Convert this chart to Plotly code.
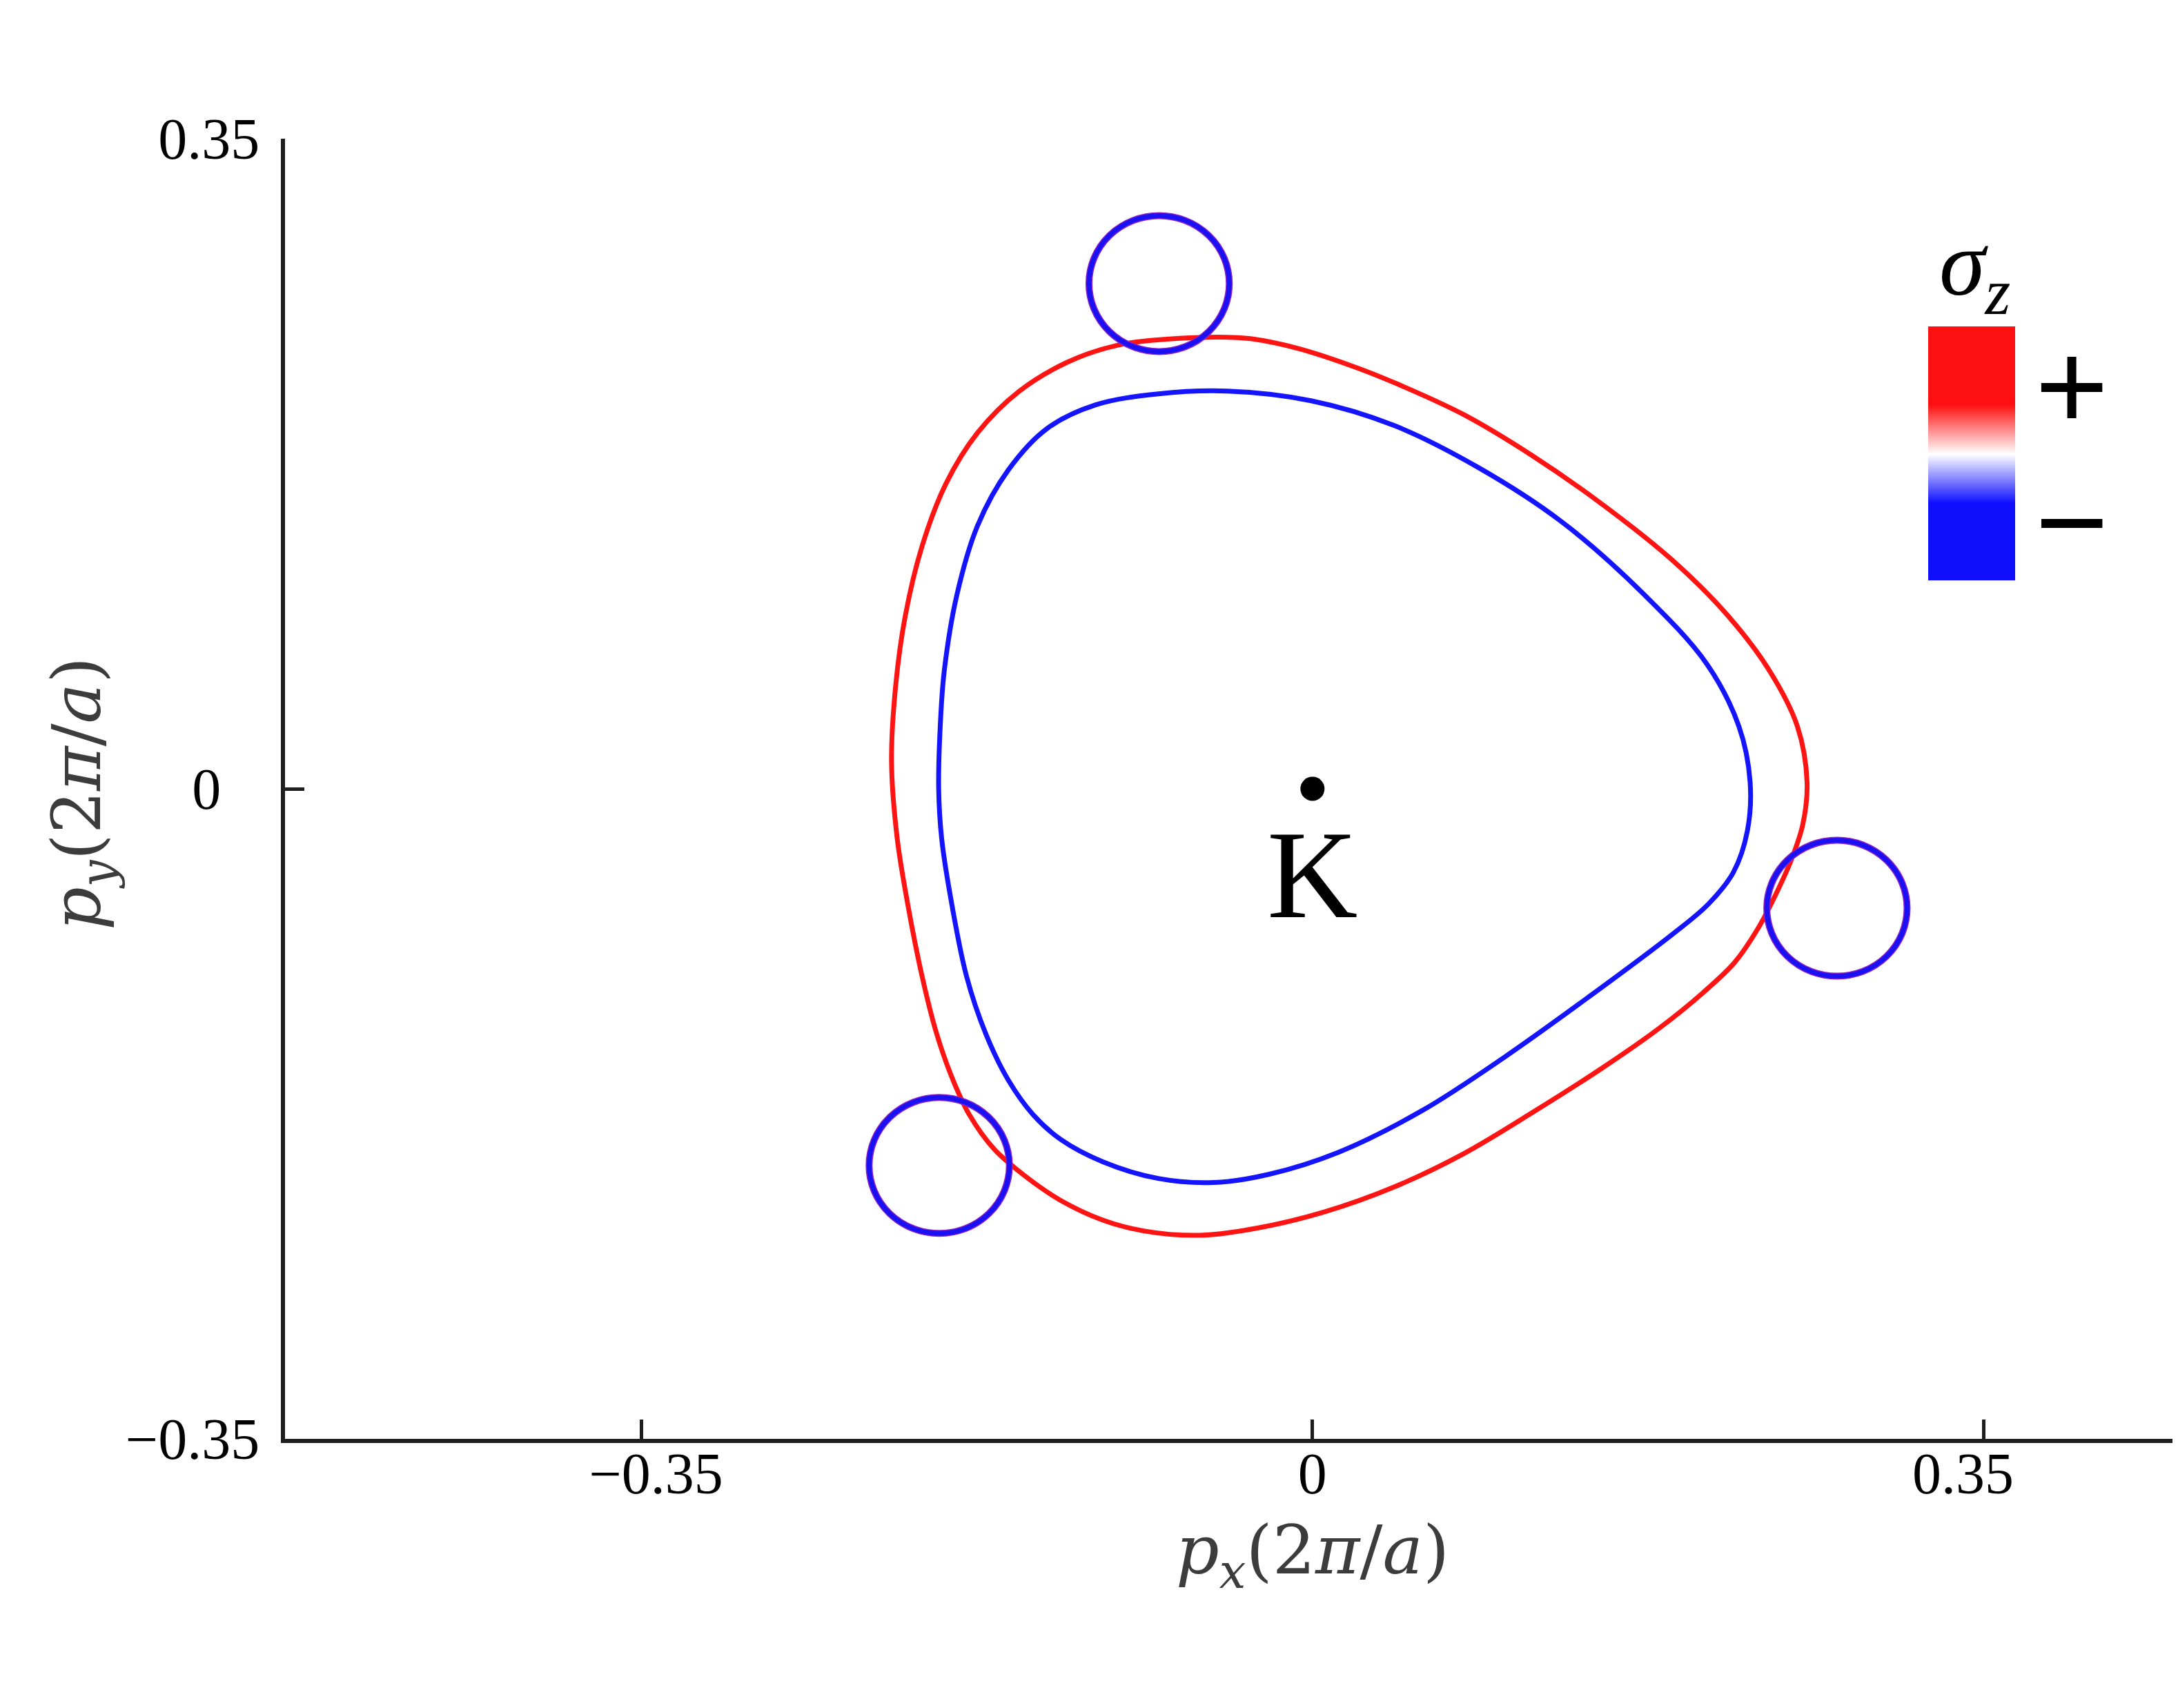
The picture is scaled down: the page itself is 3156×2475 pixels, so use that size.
import plotly.graph_objects as go

# ---------------- data ----------------
# outer (sigma_z = +) Fermi contour
red_x = [-0.2196, -0.2174, -0.2124, -0.2037, -0.1913, -0.1747, -0.1529, -0.1276, -0.1022,
         -0.0696, -0.0341, -0.0080, 0.0210, 0.0428, 0.0790, 0.1152, 0.1515, 0.1877,
         0.2167, 0.2385, 0.2530, 0.2580, 0.2559, 0.2501, 0.2421, 0.2327, 0.2203, 0.2037,
         0.1805, 0.1515, 0.1152, 0.0790, 0.0428, 0.0065, -0.0297, -0.0587, -0.0877,
         -0.1094, -0.1312, -0.1493, -0.1660, -0.1790, -0.1884, -0.1964, -0.2037, -0.2109,
         -0.2167]
red_y = [0.0149, 0.0559, 0.0932, 0.1305, 0.1641, 0.1917, 0.2141, 0.2298, 0.2387,
         0.2425, 0.2425, 0.2372, 0.2275, 0.2186, 0.2014, 0.1790, 0.1529, 0.1231,
         0.0932, 0.0634, 0.0335, 0.0037, -0.0187, -0.0374, -0.0560, -0.0747, -0.0934, -0.1098,
         -0.1292, -0.1501, -0.1740, -0.1964, -0.2143, -0.2277, -0.2367, -0.2404, -0.2381,
         -0.2322, -0.2217, -0.2090, -0.1941, -0.1755, -0.1546, -0.1307, -0.1008, -0.0635,
         -0.0262]

# inner (sigma_z = -) Fermi contour
blue_x = [-0.1950, -0.1942, -0.1921, -0.1855, -0.1747, -0.1587, -0.1384, -0.1131, -0.0805,
          -0.0442, -0.0007, 0.0428, 0.0863, 0.1297, 0.1732, 0.2058, 0.2225, 0.2283,
          0.2269, 0.2196, 0.2066, 0.1877, 0.1442, 0.1007, 0.0573, 0.0138, -0.0225,
          -0.0515, -0.0805, -0.1094, -0.1312, -0.1457, -0.1587, -0.1703, -0.1805,
          -0.1892, -0.1935]
blue_y = [0.0000, 0.0335, 0.0634, 0.1044, 0.1417, 0.1716, 0.1940, 0.2067, 0.2126,
          0.2141, 0.2089, 0.1955, 0.1731, 0.1440, 0.1044, 0.0671, 0.0335, 0.0037,
          -0.0225, -0.0449, -0.0620, -0.0784, -0.1120, -0.1441, -0.1732, -0.1956, -0.2075,
          -0.2120, -0.2098, -0.2008, -0.1889, -0.1755, -0.1568, -0.1322, -0.1008,
          -0.0560, -0.0262]

# small pockets (circles)
pocket_cx = [-0.0800, 0.2736, -0.1947]
pocket_cy = [0.2720, -0.0643, -0.2028]
pocket_r = [0.0366, 0.0366, 0.0366]

# K point
k_x = [0.0]
k_y = [0.0]
k_label = "K"

x_tickvals = [-0.35, 0.0, 0.35]
x_ticktext = ["\u2007\u22120.35", "0", "0.35\u2007\u2009"]
y_tickvals = [-0.35, 0.0, 0.35]
y_ticktext = ["\u22120.35", "0\u2007\u2006", "0.35"]

cbar_title = "<i>σ</i><sub><i>z</i></sub>"
cbar_plus = "+"
cbar_minus = "\u2212"

# ---------------- layout geometry ----------------
W, H = 3156, 2475
L, R, T, B = 405, 0, 193, 398


def px_x(X):
    return (X - L) / (W - L - R)


def px_y(Y):
    return (H - B - Y) / (H - T - B)


RED = "#ff1414"
BLUE = "#1414ff"
AX = "#1e1e1e"

fig = go.Figure()

fig.add_trace(go.Scatter(
    x=red_x + [red_x[0]], y=red_y + [red_y[0]], mode="lines",
    line=dict(color=RED, width=7, shape="spline", smoothing=1.0),
    hoverinfo="skip"))
fig.add_trace(go.Scatter(
    x=blue_x + [blue_x[0]], y=blue_y + [blue_y[0]], mode="lines",
    line=dict(color=BLUE, width=7, shape="spline", smoothing=1.0),
    hoverinfo="skip"))

fig.add_trace(go.Scatter(
    x=k_x, y=k_y, mode="markers",
    marker=dict(size=35, color="black"), hoverinfo="skip"))

# colour bar (legend for sigma_z)
colorscale = [[0.0, "#1010ff"], [0.305, "#1010ff"], [0.497, "#ffffff"],
              [0.692, "#ff1010"], [1.0, "#ff1010"]]
fig.add_trace(go.Scatter(
    x=[-10], y=[-10], mode="markers", hoverinfo="skip",
    marker=dict(color=[0], cmin=-1, cmax=1, colorscale=colorscale, showscale=True,
                colorbar=dict(xref="paper", yref="paper",
                              x=px_x(2786), xanchor="left",
                              y=px_y(649), yanchor="middle",
                              len=368, lenmode="pixels",
                              thickness=126, thicknessmode="pixels",
                              xpad=0, ypad=0, outlinewidth=0,
                              showticklabels=False, ticks=""))))

# pockets
shapes = []
for cx, cy, r in zip(pocket_cx, pocket_cy, pocket_r):
    shapes.append(dict(type="circle", xref="x", yref="y",
                       x0=cx - r, x1=cx + r, y0=cy - r, y1=cy + r,
                       line=dict(color="#8a22c8", width=10), layer="above"))
    shapes.append(dict(type="circle", xref="x", yref="y",
                       x0=cx - r, x1=cx + r, y0=cy - r, y1=cy + r,
                       line=dict(color="#1a10f2", width=7), layer="above"))

serif = "Liberation Serif"
annotations = [
    dict(x=k_x[0], y=k_y[0], xref="x", yref="y", text=k_label, showarrow=False,
         yshift=-124, xanchor="center", yanchor="middle",
         font=dict(family=serif, size=182, color="black")),
    dict(x=px_x(2853), y=px_y(383), xref="paper", yref="paper", text=cbar_title,
         showarrow=False, xanchor="center", yanchor="middle",
         font=dict(family=serif, size=135, color="black")),
    dict(x=px_x(2994), y=px_y(551), xref="paper", yref="paper", text=cbar_plus,
         showarrow=False, xanchor="center", yanchor="middle",
         font=dict(family="Liberation Sans", size=182, color="black")),
    dict(x=px_x(2994), y=px_y(748), xref="paper", yref="paper", text=cbar_minus,
         showarrow=False, xanchor="center", yanchor="middle",
         font=dict(family="Liberation Sans", size=182, color="black")),
    dict(x=0, y=px_y(2245), xref="x", yref="paper",
         text="<i>p</i><sub><i>x</i></sub>(2<i>π</i>/<i>a</i>)",
         showarrow=False, xanchor="center", yanchor="middle",
         font=dict(family="DejaVu Serif", size=98, color="#3c3c3c")),
    dict(x=px_x(110), y=px_y(1142), xref="paper", yref="paper",
         text="<i>p</i><sub><i>y</i></sub>(2<i>π</i>/<i>a</i>)", textangle=-90,
         showarrow=False, xanchor="center", yanchor="middle",
         font=dict(family="DejaVu Serif", size=98, color="#3c3c3c")),
]

tickfont = dict(family=serif, size=84, color="black")
fig.update_layout(
    width=W, height=H,
    margin=dict(l=L, r=R, t=T, b=B, pad=0, autoexpand=False),
    paper_bgcolor="white", plot_bgcolor="white",
    showlegend=False,
    shapes=shapes, annotations=annotations,
    xaxis=dict(range=[-0.536, 0.4544], showgrid=False, zeroline=False,
               showline=True, linecolor=AX, linewidth=6,
               ticks="inside", ticklen=28, tickwidth=5, tickcolor=AX,
               tickvals=x_tickvals, ticktext=x_ticktext, tickfont=tickfont,
               ticklabelstandoff=-28, fixedrange=True, automargin=False),
    yaxis=dict(range=[-0.35, 0.35], showgrid=False, zeroline=False,
               showline=True, linecolor=AX, linewidth=6,
               ticks="inside", ticklen=28, tickwidth=5, tickcolor=AX,
               tickvals=y_tickvals, ticktext=y_ticktext, tickfont=tickfont,
               ticklabelstandoff=14, fixedrange=True, automargin=False),
)

fig.write_html("out.html")
